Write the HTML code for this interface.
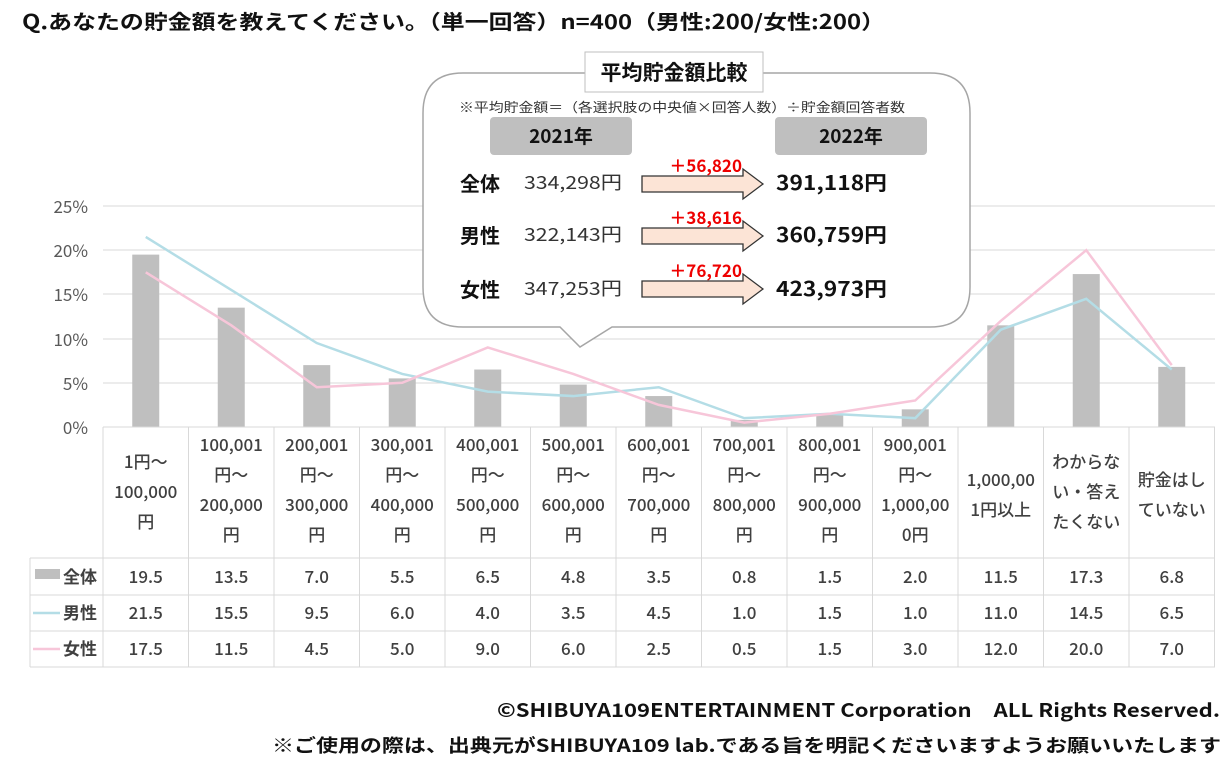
<!DOCTYPE html><html><head><meta charset="utf-8"><style>
body{margin:0;background:#fff}
text{font-family:"Noto Sans CJK JP","Liberation Sans",sans-serif}
</style></head><body>
<svg width="1229" height="777" xmlns="http://www.w3.org/2000/svg">
<rect width="1229" height="777" fill="#fff"/>
<text x="22" y="29" font-size="20" font-weight="bold" fill="#111" textLength="863" lengthAdjust="spacingAndGlyphs">Q.あなたの貯金額を教えてください。（単一回答）n=400（男性:200/女性:200）</text>
<g stroke="#d9d9d9" stroke-width="1">
<line x1="103" y1="206" x2="1215" y2="206"/><line x1="103" y1="250" x2="1215" y2="250"/>
<line x1="103" y1="294" x2="1215" y2="294"/><line x1="103" y1="339" x2="1215" y2="339"/>
<line x1="103" y1="383" x2="1215" y2="383"/>
</g>
<g font-size="17" fill="#595959" text-anchor="end">
<text x="88" y="213">25%</text><text x="88" y="257">20%</text><text x="88" y="301">15%</text>
<text x="88" y="346">10%</text><text x="88" y="390">5%</text><text x="88" y="434">0%</text>
</g>
<g fill="#bfbfbf" id="bars"></g>
<g stroke="#d9d9d9" stroke-width="1" fill="none" id="grid"></g>
<polyline id="m" fill="none" stroke="#b4dde6" stroke-width="2.5"/>
<polyline id="f" fill="none" stroke="#f7c6d9" stroke-width="2.5"/>
<g id="hdr" font-size="17" fill="#404040" text-anchor="middle" font-weight="500"></g>
<g id="vals" font-size="17" fill="#404040" text-anchor="middle" font-weight="500"></g>
<rect x="35" y="569" width="25" height="10" fill="#bfbfbf"/>
<line x1="33" y1="613" x2="60" y2="613" stroke="#b4dde6" stroke-width="2.5"/>
<line x1="33" y1="649" x2="60" y2="649" stroke="#f7c6d9" stroke-width="2.5"/>
<g font-size="17" fill="#404040" font-weight="bold"><text x="63" y="583">全体</text><text x="63" y="619">男性</text><text x="63" y="655">女性</text></g>
<path d="M463,73 H930 Q970,73 970,113 V287 Q970,327 930,327 H612 L580,347 L560,327 H463 Q423,327 423,287 V113 Q423,73 463,73 Z" fill="#fff" stroke="#a6a6a6" stroke-width="1.5"/>
<rect x="585" y="52" width="178" height="40" fill="#fff" stroke="#bfbfbf"/>
<text x="674" y="80" font-size="21" font-weight="bold" text-anchor="middle" fill="#111">平均貯金額比較</text>
<text x="459" y="112" font-size="13" fill="#333" textLength="446" lengthAdjust="spacingAndGlyphs">※平均貯金額＝（各選択肢の中央値×回答人数）÷貯金額回答者数</text>
<rect x="490" y="117" width="142" height="38" rx="4" fill="#bfbfbf"/>
<rect x="775" y="117" width="152" height="38" rx="4" fill="#bfbfbf"/>
<text x="561" y="143" font-size="19" font-weight="bold" text-anchor="middle" fill="#111">2021年</text>
<text x="851" y="143" font-size="19" font-weight="bold" text-anchor="middle" fill="#111">2022年</text>
<g id="rows"></g>
<text x="497" y="717" font-size="19" font-weight="bold" fill="#111" textLength="723" lengthAdjust="spacingAndGlyphs">©SHIBUYA109ENTERTAINMENT Corporation　ALL Rights Reserved.</text>
<text x="272" y="752" font-size="18" font-weight="bold" fill="#111" textLength="949" lengthAdjust="spacingAndGlyphs">※ご使用の際は、出典元がSHIBUYA109 lab.である旨を明記くださいますようお願いいたします</text>
</svg>
<script>
var NS="http://www.w3.org/2000/svg";
function el(p,t,a,tx){var e=document.createElementNS(NS,t);for(var k in a)e.setAttribute(k,a[k]);if(tx!==undefined)e.textContent=tx;document.getElementById(p).appendChild(e);return e;}
var all=[19.5,13.5,7.0,5.5,6.5,4.8,3.5,0.8,1.5,2.0,11.5,17.3,6.8],
m=[21.5,15.5,9.5,6.0,4.0,3.5,4.5,1.0,1.5,1.0,11.0,14.5,6.5],
f=[17.5,11.5,4.5,5.0,9.0,6.0,2.5,0.5,1.5,3.0,12.0,20.0,7.0];
var W=85.5,X0=103,Y0=427,S=8.84;
var hd=[["1円～","100,000","円"],["100,001","円～","200,000","円"],["200,001","円～","300,000","円"],["300,001","円～","400,000","円"],["400,001","円～","500,000","円"],["500,001","円～","600,000","円"],["600,001","円～","700,000","円"],["700,001","円～","800,000","円"],["800,001","円～","900,000","円"],["900,001","円～","1,000,00","0円"],["1,000,00","1円以上"],["わからな","い・答え","たくない"],["貯金はし","ていない"]];
var mp=[],fp=[];
for(var i=0;i<13;i++){var c=X0+W*(i+.5);
el("bars","rect",{x:c-13.5,y:Y0-all[i]*S,width:27,height:all[i]*S});
mp.push(c+","+(Y0-m[i]*S));fp.push(c+","+(Y0-f[i]*S));
var h=hd[i],y0=h.length==4?451:(h.length==3?468:486);
h.forEach(function(s,j){el("hdr","text",{x:c,y:y0+j*30},s)});
[all,m,f].forEach(function(a,r){el("vals","text",{x:c,y:583+r*36},a[i].toFixed(1))});
}
document.getElementById("m").setAttribute("points",mp.join(" "));
document.getElementById("f").setAttribute("points",fp.join(" "));
for(var i=0;i<=13;i++){var x=X0+W*i;el("grid","line",{x1:x,y1:427,x2:x,y2:667});}
el("grid","line",{x1:30,y1:558,x2:30,y2:667});
[427,558,595,631,667].forEach(function(y){el("grid","line",{x1:y==427?103:30,y1:y,x2:1215,y2:y})});
var R=[["全体","334,298円","＋56,820","391,118円"],["男性","322,143円","＋38,616","360,759円"],["女性","347,253円","＋76,720","423,973円"]];
R.forEach(function(r,k){var y=[191,243,297][k],ay=[184,236,289][k];
el("rows","text",{x:460,y:y,"font-size":20,"font-weight":"bold",fill:"#111"},r[0]);
el("rows","text",{x:524,y:y-2,"font-size":18,fill:"#333",textLength:98,lengthAdjust:"spacingAndGlyphs"},r[1]);
el("rows","text",{x:742,y:ay-12,"font-size":17,"font-weight":"bold",fill:"#e00","text-anchor":"end"},r[2]);
el("rows","path",{d:"M642,"+(ay-8)+" H743 V"+(ay-15)+" L763,"+ay+" L743,"+(ay+15)+" V"+(ay+8)+" H642 Z",fill:"#fce4d6",stroke:"#333","stroke-width":1.3});
el("rows","text",{x:776,y:y-1,"font-size":20,"font-weight":"bold",fill:"#111",textLength:111,lengthAdjust:"spacingAndGlyphs"},r[3]);
});
</script>
</body></html>
